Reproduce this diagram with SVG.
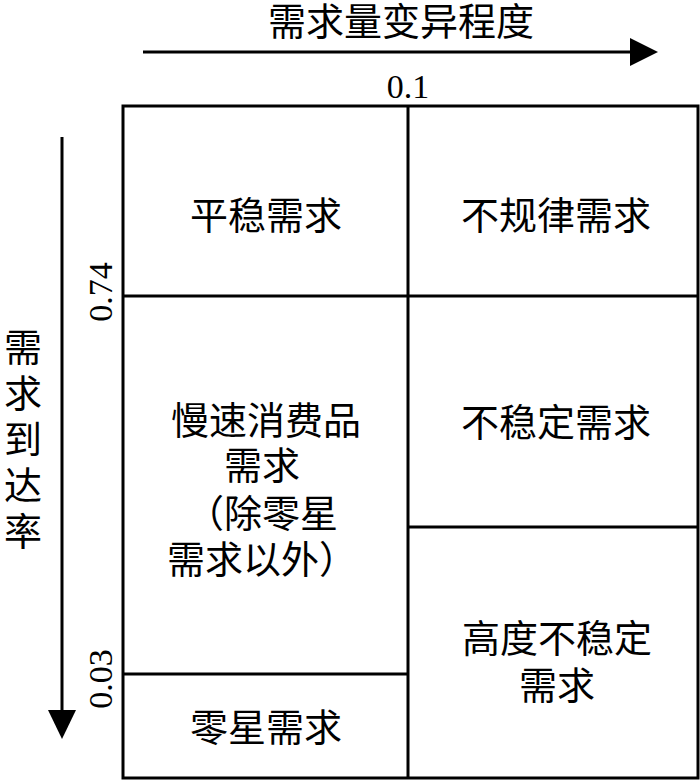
<svg xmlns="http://www.w3.org/2000/svg" width="700" height="781" viewBox="0 0 700 781">
<style>
.cj{font-family:"Noto Sans CJK SC","Noto Sans CJK JP",sans-serif;font-size:38px;fill:#000;text-anchor:middle}
.num{font-family:"Liberation Serif",serif;font-size:34px;fill:#000;text-anchor:middle}
.ln{stroke:#000;stroke-width:3;fill:none}
</style>
<rect width="700" height="781" fill="#fff"/>
<g id="axes">
<line x1="143" y1="52" x2="633" y2="52" class="ln"/>
<path d="M630,38 L658,52 L630,66 Z" fill="#000"/>
<line x1="62" y1="137" x2="62" y2="714" class="ln"/>
<path d="M48,710 L62,739 L76,710 Z" fill="#000"/>
</g>
<g id="axis-labels">
<text class="cj" x="401" y="35">需求量变异程度</text>
<text class="num" x="408" y="98">0.1</text>
<text class="cj" x="23" y="361">需</text>
<text class="cj" x="23" y="407">求</text>
<text class="cj" x="23" y="453">到</text>
<text class="cj" x="23" y="499">达</text>
<text class="cj" x="23" y="545">率</text>
<text class="num" transform="translate(112,292) rotate(-90)">0.74</text>
<text class="num" transform="translate(112,679) rotate(-90)">0.03</text>
</g>
<g id="grid">
<rect x="123" y="106" width="575" height="672" class="ln"/>
<line x1="408" y1="106" x2="408" y2="778" class="ln"/>
<line x1="123" y1="296" x2="698" y2="296" class="ln"/>
<line x1="408" y1="527" x2="698" y2="527" class="ln"/>
<line x1="123" y1="674" x2="408" y2="674" class="ln"/>
</g>
<g id="n-stable"><text class="cj" x="266" y="229">平稳需求</text></g>
<g id="n-irregular"><text class="cj" x="556" y="229">不规律需求</text></g>
<g id="n-unstable"><text class="cj" x="556" y="436">不稳定需求</text></g>
<g id="n-slow">
<text class="cj" x="266" y="434">慢速消费品</text>
<text class="cj" x="262" y="479">需求</text>
<text class="cj" x="262" y="527">（除零星</text>
<text class="cj" x="262" y="573">需求以外）</text>
</g>
<g id="n-highly-unstable">
<text class="cj" x="557" y="652">高度不稳定</text>
<text class="cj" x="557" y="699">需求</text>
</g>
<g id="n-sporadic"><text class="cj" x="266" y="741">零星需求</text></g>
</svg>
